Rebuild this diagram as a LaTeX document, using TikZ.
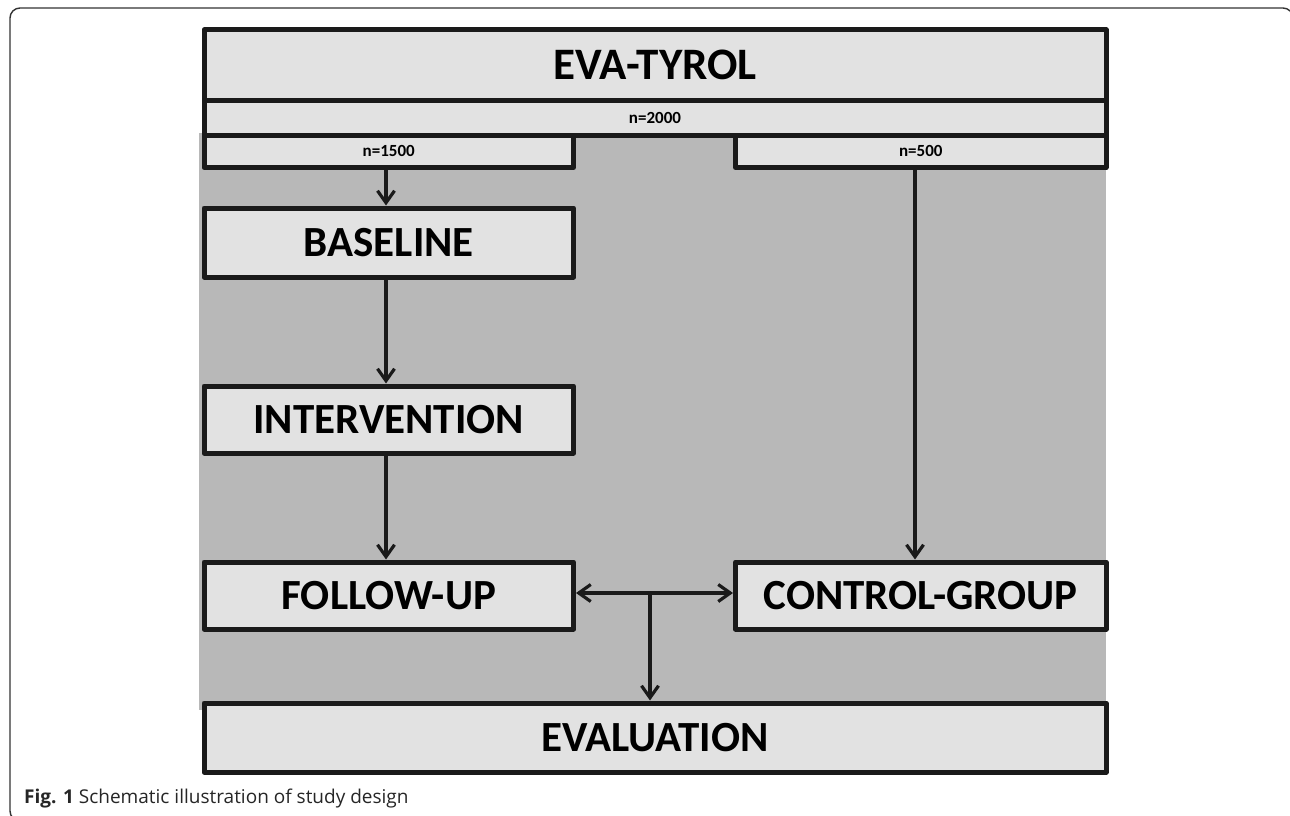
\documentclass[tikz,border=0pt]{standalone}
\usepackage{fontspec}
\setmainfont{Carlito}
\newfontfamily\capfont{Open Sans}
\usetikzlibrary{arrows.meta}
\definecolor{boxfill}{HTML}{E2E2E2}
\definecolor{bgfill}{HTML}{B8B8B8}
\definecolor{edge}{HTML}{1A1A1A}
\tikzset{
  blk/.style={draw=edge, fill=boxfill, line width=5pt, line join=round, inner sep=0pt, anchor=north west},
  big/.style={font=\fontsize{43}{48}\selectfont\bfseries},
  small/.style={font=\fontsize{17}{20}\selectfont\bfseries},
  tip/.tip={Straight Barb[length=12pt,width=17pt,line width=3.2pt]},
  conn/.style={draw=edge, line width=3.2pt, -tip},
}
\begin{document}
\begin{tikzpicture}[x=1pt,y=-1pt]
\useasboundingbox (0,0) rectangle (1290,816);
\fill[white] (0,0) rectangle (1290,816);
\begin{scope}
\clip (0,0) rectangle (1290,816);
\draw[line width=1.4pt, draw=black!80, rounded corners=10pt] (10,8) rectangle (1293,821);
\end{scope}
% grey background
\fill[bgfill] (199,133) rectangle (1106,710);
% boxes
\node[blk, minimum width=902pt, minimum height=70.5pt, font=\fontsize{45}{50}\selectfont\bfseries] (eva) at (201.5,27.5) {EVA-TYROL};
\node[blk, minimum width=902pt, minimum height=34.5pt, small] (n2000) at (201.5,98) {n=2000};
\node[blk, minimum width=369.5pt, minimum height=32.5pt, small] (n1500) at (201.5,132.5) {n=1500};
\node[blk, minimum width=370.5pt, minimum height=32.5pt, small] (n500) at (733,132.5) {n=500};
\node[blk, minimum width=369.5pt, minimum height=69pt, big] (base) at (201.5,205.5) {BASELINE};
\node[blk, minimum width=369.5pt, minimum height=67pt, big] (inter) at (201.5,383.5) {INTERVENTION};
\node[blk, minimum width=369.5pt, minimum height=67pt, big] (follow) at (201.5,559.5) {FOLLOW-UP};
\node[blk, minimum width=370.5pt, minimum height=67pt, big] (ctrl) at (733,559.5) {CONTROL-GROUP};
\node[blk, minimum width=902pt, minimum height=69pt, big] (eval) at (201.5,700.5) {EVALUATION};
% connectors
\draw[conn] (n1500.south -| 386,0) -- (base.north -| 386,0);
\draw[conn] (base.south -| 386,0) -- (inter.north -| 386,0);
\draw[conn] (inter.south -| 386,0) -- (follow.north -| 386,0);
\draw[conn] (n500.south -| 915,0) -- (ctrl.north -| 915,0);
\coordinate (mid) at (650,593);
\draw[conn, tip-tip] (follow.east |- mid) -- (ctrl.west |- mid);
\draw[conn] (mid) -- (eval.north -| mid);
% caption
\node[anchor=base west, inner sep=0pt, text=black!85, font=\capfont\fontsize{19}{22}\selectfont] (cap) at (24,803) {\textbf{Fig. 1} Schematic illustration of study design};
\end{tikzpicture}
\end{document}
